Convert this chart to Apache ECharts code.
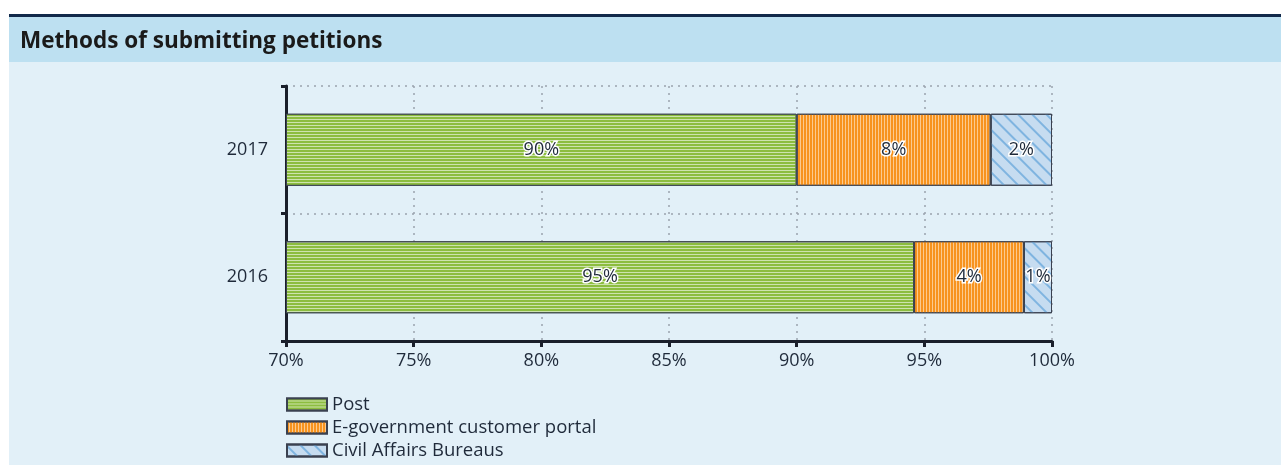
<!DOCTYPE html>
<html>
<head>
<meta charset="utf-8">
<script src="https://cdn.jsdelivr.net/npm/echarts@6/dist/echarts.min.js"></script>
<style>
html,body{margin:0;padding:0;background:#ffffff;}
#c{width:1281px;height:465px;}
</style>
</head>
<body>
<div id="c"></div>
<script>
// ---- data ----
const years = ['2016', '2017'];
const post = [94.6, 90.0];
const egov = [4.3, 7.6];
const civil = [1.1, 2.4];
const seriesNames = ['Post', 'E-government customer portal', 'Civil Affairs Bureaus'];
const xTicks = [70, 75, 80, 85, 90, 95, 100];

const X_MIN = 70, X_MAX = 100, X_STEP = 5;
const FONT = '"Open Sans", Lato, sans-serif';
const TXT = '#1f2a3a';
const FS = 18;

const chart = echarts.init(document.getElementById('c'), null, {renderer: 'canvas'});

const pctLabel = (arr) => ({
  show: true,
  position: 'inside',
  color: TXT,
  fontFamily: FONT,
  fontSize: FS,
  textBorderColor: '#ffffff',
  textBorderWidth: 3,
  formatter: (p) => Math.round(arr[p.dataIndex]) + '%'
});

const border = {borderColor: '#3a4150', borderWidth: 1};

const option = {
  backgroundColor: 'transparent',
  animation: false,
  graphic: [
    {type: 'rect', shape: {x: 9, y: 17, width: 1272, height: 448}, style: {fill: '#e2f0f8'}, z: -10},
    {type: 'rect', shape: {x: 9, y: 17, width: 1272, height: 45}, style: {fill: '#bde0f1'}, z: -9},
    {type: 'rect', shape: {x: 9, y: 14, width: 1272, height: 3}, style: {fill: '#12294a'}, z: -8}
  ],
  title: {
    text: 'Methods of submitting petitions',
    left: 15, top: 25,
    textStyle: {fontFamily: FONT, fontSize: 22.5, fontWeight: 'bold', color: '#1a1a1a'}
  },
  grid: {left: 286, right: 229, top: 86, bottom: 124, containLabel: false},
  xAxis: {
    type: 'value',
    min: X_MIN, max: X_MAX, interval: X_STEP,
    axisLine: {show: true, lineStyle: {color: '#1a1f2b', width: 3}},
    axisTick: {show: true, length: 6, lineStyle: {color: '#1a1f2b', width: 3}},
    axisLabel: {
      margin: 11, color: TXT, fontFamily: FONT, fontSize: FS,
      formatter: (v) => xTicks.includes(v) ? v + '%' : ''
    },
    splitLine: {show: true, lineStyle: {color: '#9aa3ad', width: 1.5, type: [2, 5]}}
  },
  yAxis: {
    type: 'category',
    data: years,
    axisLine: {show: true, lineStyle: {color: '#1a1f2b', width: 3}},
    axisTick: {show: true, length: 5, lineStyle: {color: '#1a1f2b', width: 3}},
    axisLabel: {margin: 18, color: TXT, fontFamily: FONT, fontSize: FS},
    splitLine: {show: true, lineStyle: {color: '#9aa3ad', width: 1.5, type: [2, 5]}}
  },
  legend: {
    orient: 'vertical',
    left: 286, top: 395,
    padding: 0,
    itemWidth: 40, itemHeight: 12, itemGap: 4,
    icon: 'rect',
    data: seriesNames,
    textStyle: {color: TXT, fontFamily: FONT, fontSize: 18.5, lineHeight: 19},
    selectedMode: false
  },
  series: [
    {
      name: '_base', type: 'bar', stack: 's', silent: true,
      data: years.map(() => X_MIN),
      itemStyle: {color: 'rgba(0,0,0,0)'},
      barWidth: 72
    },
    {
      name: seriesNames[0], type: 'bar', stack: 's', barWidth: 72,
      data: post.map(v => v - X_MIN),
      itemStyle: Object.assign({
        color: '#cde3ae',
        decal: {symbol: 'rect', symbolSize: 1, color: '#8cbd3f', dashArrayX: [1, 0], dashArrayY: [2, 1], rotation: 0}
      }, border),
      label: pctLabel(post)
    },
    {
      name: seriesNames[1], type: 'bar', stack: 's', barWidth: 72,
      data: egov,
      itemStyle: Object.assign({
        color: '#fcca8e',
        decal: {symbol: 'rect', symbolSize: 1, color: '#f7931e', dashArrayX: [2, 1], dashArrayY: [1, 0], rotation: 0}
      }, border),
      label: pctLabel(egov)
    },
    {
      name: seriesNames[2], type: 'bar', stack: 's', barWidth: 72,
      data: civil,
      itemStyle: Object.assign({
        color: '#c6dcf0',
        decal: {symbol: 'rect', symbolSize: 1, color: '#7fb4e0', dashArrayX: [1, 0], dashArrayY: [1.5, 8], rotation: Math.PI / 4}
      }, border),
      label: pctLabel(civil)
    }
  ]
};
chart.setOption(option);
</script>
</body>
</html>
